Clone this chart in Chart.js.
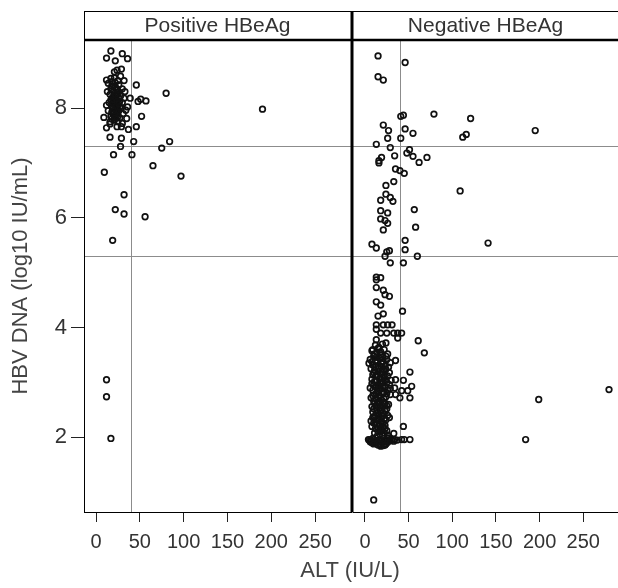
<!DOCTYPE html>
<html>
<head>
<meta charset="utf-8">
<script src="https://cdn.jsdelivr.net/npm/chart.js@4/dist/chart.umd.min.js"></script>
<style>
  body { margin: 0; background: #fff; }
  #wrap { position: relative; width: 618px; height: 588px; overflow: hidden; }
  canvas { position: absolute; top: 0; }
  #c1 { left: 0; }
  #c2 { left: 352px; }
  #xtitle { position: absolute; left: 0; width: 700px; top: 557px; text-align: center;
    font: 22px "Liberation Sans", Arial, sans-serif; color: #444; }
</style>
</head>
<body>
<div id="wrap">
  <canvas id="c1" width="352" height="588"></canvas>
  <canvas id="c2" width="266" height="588"></canvas>
  <div id="xtitle">ALT (IU/L)</div>
</div>
<script>
// values: [ALT, log10 HBV DNA]
const positiveHBeAg = [
  [17,9.04],[12,8.91],[22,8.86],[30,8.99],[36,8.90],[29,8.71],[24,8.69],[21,8.66],
  [12,8.51],[17,8.54],[32,8.50],[46,8.42],[80,8.27],[190,7.98],[39,8.18],[48,8.12],
  [51,8.16],[57,8.13],[36,8.02],[52,7.85],[9,7.83],[35,7.81],[12,7.64],[16,7.71],
  [24,7.66],[29,7.66],[37,7.61],[46,7.66],[16,7.47],[29,7.45],[43,7.39],[84,7.39],
  [75,7.27],[28,7.30],[20,7.15],[41,7.15],[65,6.95],[9.5,6.83],[97,6.76],[32,6.42],
  [22,6.15],[32,6.07],[56,6.02],[19,5.59],[12,3.05],[12,2.74],[17,1.98],
  [14,8.45],[18,8.40],[22,8.38],[26,8.42],[30,8.35],[20,8.30],[24,8.28],[16,8.25],
  [28,8.22],[33,8.30],[19,8.18],[23,8.15],[27,8.12],[15,8.10],[21,8.08],[25,8.05],
  [30,8.10],[18,8.02],[22,7.98],[26,7.95],[14,7.95],[29,8.00],[20,7.90],[24,7.88],
  [17,7.85],[27,7.82],[31,7.90],[21,7.78],[25,7.75],[19,8.20],[23,8.24],[17,8.35],
  [25,8.50],[21,8.55],[28,8.58],[13,8.30],[32,8.18],[34,7.96],[12,8.05],[16,7.75],
  [30,7.72],[22,8.12],[26,8.18],[20,8.00],[24,7.95],[18,7.92],
  [19,8.10],[23,8.05],[21,8.20],[25,8.25],[19,7.98],[23,7.92],[27,8.02],[21,7.85],
  [25,7.85],[17,8.15],[20,8.40],[24,8.35],[18,8.48],[22,8.46],[26,8.30],[22,7.82],
  [18,7.80],[20,8.15],[24,8.12],[22,8.25],[26,8.08],[20,7.95]
];

const negativeHBeAg = [
  [15,8.95],[46,8.83],[15,8.57],[21,8.51],[41,7.85],[44,7.87],[79,7.89],[121,7.81],
  [195,7.59],[21,7.69],[27,7.59],[46,7.62],[55,7.54],[26,7.45],[41,7.45],[116,7.52],
  [112,7.47],[13,7.34],[29,7.28],[51,7.24],[48,7.18],[34,7.13],[19,7.10],[55,7.12],
  [71,7.10],[62,7.01],[16,7.04],[16,7.00],[35,6.89],[40,6.86],[45,6.81],[33,6.66],
  [24,6.59],[109,6.49],[24,6.43],[29,6.37],[18,6.32],[32,6.30],[56.5,6.15],[18,6.13],
  [26,6.09],[18,5.98],[23,5.95],[26,5.90],[58,5.83],[21,5.78],[46,5.59],[8,5.52],
  [141,5.54],[13,5.45],[46,5.42],[25,5.38],[28,5.40],[23,5.30],[60,5.30],[29,5.18],
  [44,5.18],[13,4.92],[18,4.91],[13,4.87],[13,4.73],[21,4.68],[23,4.60],[28,4.57],
  [13,4.47],[18,4.41],[43,4.30],[21,4.25],[15,4.21],[13,4.05],[21,4.05],[26,4.05],
  [31,4.05],[13,3.97],[18,3.90],[25,3.90],[33,3.90],[37.5,3.90],[42,3.90],[37.5,3.81],
  [61,3.76],[68,3.54],[13,3.78],[24,3.72],[4.6,3.35],[35,3.40],[51.5,3.19],[30,3.04],
  [35,3.05],[44,3.04],[53.5,2.93],[34,2.90],[42,2.85],[49,2.85],[29,2.89],[35,2.78],
  [40,2.72],[51.5,2.72],[279.5,2.87],[199,2.69],[44,2.20],[33,2.07],[42,1.96],[45,1.96],
  [51.5,1.96],[184,1.96],[10,0.86],
  [12,3.68],[16,3.64],[20,3.70],[8,3.58],[14,3.55],[22,3.60],[26,3.52],[18,3.50],[10,3.48],
  [6,3.42],[12,3.40],[17,3.44],[21,3.38],[25,3.42],[29,3.36],[9,3.32],[15,3.30],[19,3.34],
  [23,3.30],[13,3.46],[7,3.25],[11,3.22],[16,3.26],[20,3.20],[24,3.24],[28,3.18],[9,3.14],
  [14,3.12],[18,3.16],[22,3.10],[26,3.12],[12,3.28],[8,3.06],[13,3.04],[17,3.08],[21,3.02],
  [25,3.00],[10,2.96],[15,2.94],[19,2.98],[23,2.92],[28,2.96],[6,2.90],[12,2.92],[9,2.86],
  [14,2.84],[18,2.88],[22,2.82],[26,2.86],[11,2.78],[16,2.76],[20,2.80],[24,2.74],[7,2.72],
  [13,2.70],[29,2.78],[10,2.66],[15,2.64],[19,2.68],[23,2.62],[27,2.60],[8,2.56],[12,2.58],
  [17,2.54],[21,2.56],[25,2.52],[14,2.50],[9,2.46],[13,2.44],[18,2.48],[22,2.42],[26,2.40],
  [11,2.36],[16,2.34],[20,2.38],[24,2.32],[7,2.30],[28,2.36],[10,2.26],[14,2.24],[19,2.28],
  [23,2.22],[12,2.16],[17,2.14],[21,2.18],[25,2.12],[15,2.10],[8,2.20],
  [4,1.96],[7,1.95],[10,1.96],[13,1.94],[16,1.95],[19,1.96],[22,1.94],[25,1.95],[28,1.96],
  [31,1.95],[34,1.96],[37,1.95],[6,1.92],[12,1.90],[18,1.92],[24,1.88],[15,1.86],[21,1.85],
  [9,1.98],[27,1.99],[14,2.02],[20,2.03],[26,2.04],
  [9,3.60],[15,3.62],[18,3.56],[11,3.52],[20,3.46],[24,3.48],[14,3.38],[8,3.38],[19,3.28],
  [27,3.28],[10,3.18],[15,3.20],[22,3.22],[13,3.14],[17,3.00],[11,3.02],[20,3.08],[24,3.06],
  [8,2.98],[16,2.88],[20,2.92],[13,2.80],[25,2.80],[9,2.76],[18,2.72],[22,2.70],[11,2.62],
  [17,2.64],[21,2.62],[14,2.58],[25,2.58],[10,2.52],[19,2.50],[16,2.42],[12,2.40],[20,2.44],
  [23,2.48],[9,2.36],[14,2.32],[18,2.30],[22,2.34],[12,2.26],[17,2.22],[21,2.26],[15,2.16],
  [19,2.12],[23,2.16],[11,2.08],[17,2.06],[22,2.08],[5,1.95],[11,1.93],[17,1.94],[23,1.95],
  [29,1.94],[33,1.93],[8,1.90],[14,1.90],[20,1.90],[26,1.91],[17,1.88],[10,1.88],[18,1.84],
  [23,1.86]
];

const panelTitles = ['Positive HBeAg', 'Negative HBeAg'];
const xTicks = [0, 50, 100, 150, 200, 250];
const yTicks = [2, 4, 6, 8];
const refDNA = [5.3, 7.3];
const refALT = 40;

const FONT = '"Liberation Sans", Arial, sans-serif';

const panelPlugin = {
  id: 'panel',
  beforeDatasetsDraw(chart, args, opts) {
    const { ctx, chartArea: a, scales: { x, y } } = chart;
    ctx.save();
    ctx.beginPath();
    ctx.rect(a.left, a.top, a.right - a.left, a.bottom - a.top);
    ctx.clip();
    ctx.strokeStyle = '#8c8c8c';
    ctx.lineWidth = 1;
    ctx.beginPath();
    refDNA.forEach(v => {
      const py = Math.round(y.getPixelForValue(v)) + 0.5;
      ctx.moveTo(a.left, py);
      ctx.lineTo(a.right, py);
    });
    const px = Math.round(x.getPixelForValue(refALT)) + 0.5;
    ctx.moveTo(px, a.top);
    ctx.lineTo(px, a.bottom);
    ctx.stroke();
    ctx.restore();
  },
  afterDraw(chart, args, opts) {
    const { ctx, chartArea: a } = chart;
    const left = opts.side === 'left';
    const right = chart.width;
    ctx.save();
    // strip
    ctx.strokeStyle = '#000';
    ctx.lineWidth = 1;
    ctx.beginPath();
    ctx.moveTo(a.left, 11.5);
    ctx.lineTo(right, 11.5);
    if (left) {
      ctx.moveTo(a.left + 0.5, 11.5);
      ctx.lineTo(a.left + 0.5, a.bottom);
    }
    ctx.stroke();
    ctx.lineWidth = 2.5;
    ctx.beginPath();
    ctx.moveTo(a.left, a.top);
    ctx.lineTo(right, a.top);
    ctx.stroke();
    // divider between panels
    ctx.lineWidth = 3;
    ctx.beginPath();
    const dx = left ? chart.width : 0;
    ctx.moveTo(dx, 11);
    ctx.lineTo(dx, a.bottom + 0.5);
    ctx.stroke();
    ctx.fillStyle = '#333';
    ctx.font = '21px ' + FONT;
    ctx.textAlign = 'center';
    ctx.textBaseline = 'middle';
    ctx.fillText(opts.title, (a.left + a.right) / 2, 26);
    ctx.restore();
  }
};

function makePanel(id, points, title, side) {
  const left = side === 'left';
  return new Chart(document.getElementById(id), {
    type: 'scatter',
    data: {
      datasets: [{
        data: points.map(p => ({ x: p[0], y: p[1] })),
        pointStyle: 'circle',
        pointRadius: 2.8,
        borderWidth: 1.7,
        borderColor: '#111',
        backgroundColor: 'rgba(0,0,0,0)'
      }]
    },
    options: {
      responsive: false,
      animation: false,
      events: [],
      layout: { autoPadding: false, padding: { top: 40, left: left ? 0 : 1, right: left ? 1 : 0, bottom: 0 } },
      plugins: {
        legend: { display: false },
        tooltip: { enabled: false },
        panel: { title: title, side: side }
      },
      scales: {
        x: {
          type: 'linear',
          min: -13.7,
          max: left ? 291 : 289.8,
          afterBuildTicks: s => { s.ticks = xTicks.map(v => ({ value: v })); },
          afterFit: s => { s.height = 76; s.paddingLeft = 0; s.paddingRight = 0; },
          grid: { drawOnChartArea: false, drawTicks: true, tickLength: 10, color: '#222' },
          border: { display: true, color: '#000', width: 1 },
          ticks: { font: { family: FONT, size: 20 }, color: '#333', padding: 8, maxRotation: 0, autoSkip: false }
        },
        y: {
          display: left,
          min: 0.64,
          max: 9.24,
          afterBuildTicks: s => { s.ticks = yTicks.map(v => ({ value: v })); },
          afterFit: s => { s.width = left ? 84 : 0; s.paddingTop = 0; s.paddingBottom = 0; },
          grid: { drawOnChartArea: false, drawTicks: true, tickLength: 13, color: '#222' },
          border: { display: true, color: '#000', width: 1 },
          ticks: { font: { family: FONT, size: 22 }, color: '#333', padding: 4 },
          title: {
            display: true,
            text: 'HBV DNA (log10 IU/mL)',
            font: { family: FONT, size: 22 },
            color: '#444',
            padding: { top: 8, bottom: 0 }
          }
        }
      }
    },
    plugins: [panelPlugin]
  });
}

makePanel('c1', positiveHBeAg, panelTitles[0], 'left');
makePanel('c2', negativeHBeAg, panelTitles[1], 'right');
</script>
</body>
</html>
